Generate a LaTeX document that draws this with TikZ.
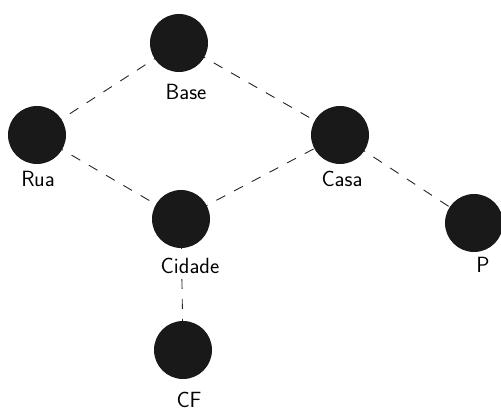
\documentclass[tikz,border=0pt]{standalone}
\usetikzlibrary{backgrounds}
\begin{document}
\begin{tikzpicture}[x=1pt,y=-1pt,
  vert/.style={circle,fill=black!90,draw=none,minimum size=58pt,inner sep=0pt},
  lab/.style={anchor=base,inner sep=1pt,fill=white,font=\sffamily\fontsize{22}{24}\selectfont},
  edge/.style={draw=black!85,line width=0.9pt,dash pattern=on 10pt off 10pt}]
\useasboundingbox (0,0) rectangle (501,411);
\node[vert] (base) at (179,43) {};
\node[vert] (rua) at (37,135) {};
\node[vert] (casa) at (340,135) {};
\node[vert] (cidade) at (181,219) {};
\node[vert] (p) at (474,223) {};
\node[vert] (cf) at (183,350) {};
\node[lab] (lbase) at (186,100) {Base};
\node[lab] (lrua) at (38,187) {Rua};
\node[lab] (lcasa) at (342,187) {Casa};
\node[lab] (lcidade) at (190,274) {Cidade};
\node[lab] (lp) at (483,273) {P};
\node[lab] (lcf) at (189,408) {CF};
\begin{scope}[on background layer]
\draw[edge] (base.center) -- (rua.center);
\draw[edge] (base.center) -- (casa.center);
\draw[edge] (rua.center) -- (cidade.center);
\draw[edge] (cidade.center) -- (casa.center);
\draw[edge] (casa.center) -- (p.center);
\draw[edge] (cidade.center) -- (cf.center);
\end{scope}
\end{tikzpicture}
\end{document}
